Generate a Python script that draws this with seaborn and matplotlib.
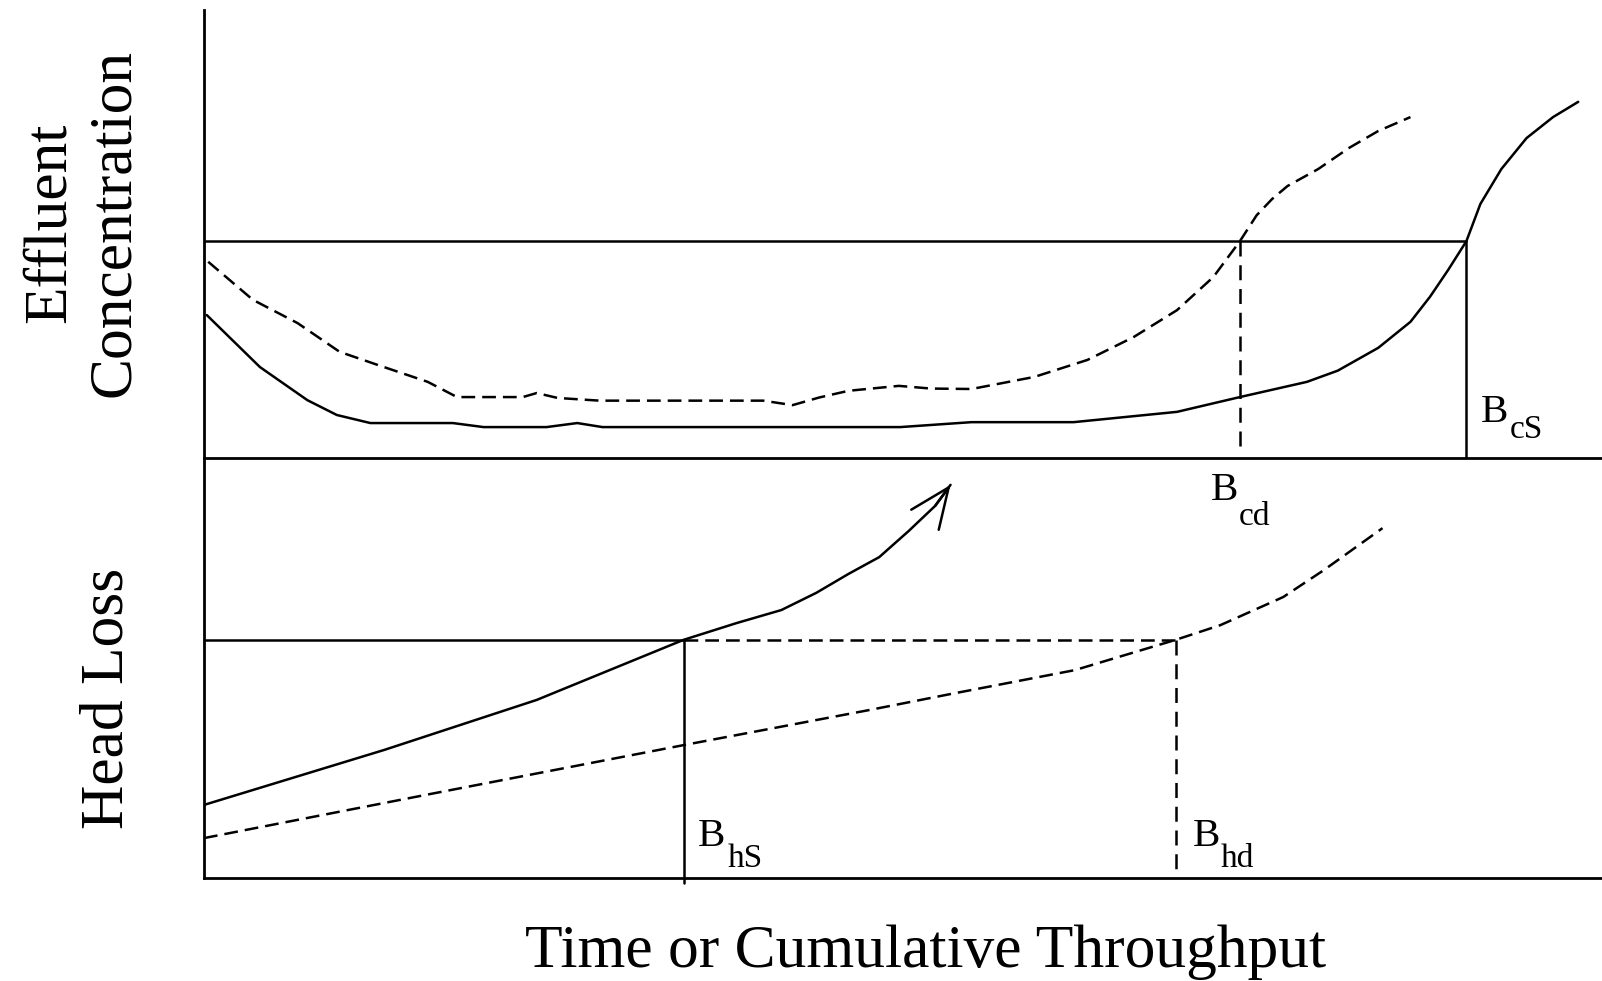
import matplotlib
matplotlib.use("Agg")
import matplotlib.pyplot as plt
import seaborn as sns

# ---- Effluent concentration (upper panel) ----
time_conc_single = [0.2, 4.0, 7.4, 9.5, 11.9, 17.8, 20.0, 24.5, 26.7, 28.5, 41.0, 49.8,
                    54.9, 62.2, 69.6, 74.1, 78.9, 81.1, 84.0, 86.3, 87.7, 89.0, 90.3,
                    91.3, 92.8, 94.6, 96.5, 98.3]
conc_single = [31.9, 20.3, 12.9, 9.6, 7.8, 7.8, 6.9, 6.9, 7.8, 6.9, 6.9, 6.9,
               8.0, 8.0, 10.3, 13.6, 17.0, 19.5, 24.6, 30.4, 36.0, 42.0, 48.4,
               56.7, 64.5, 71.4, 76.1, 79.5]

time_conc_dual = [0.3, 3.5, 6.7, 9.7, 12.4, 16.0, 18.1, 22.8, 23.8, 25.3, 28.3, 34.0,
                  40.0, 42.1, 44.0, 46.1, 49.7, 52.0, 54.9, 59.4, 63.2, 66.5, 69.6,
                  72.2, 74.1, 75.3, 76.4, 77.5, 79.7, 81.9, 84.0, 86.3]
conc_dual = [43.8, 35.3, 30.1, 23.7, 20.8, 17.0, 13.6, 13.6, 14.5, 13.4, 12.8, 12.8,
             12.8, 11.8, 13.5, 15.0, 16.1, 15.5, 15.4, 18.1, 21.9, 27.0, 33.0,
             40.4, 48.4, 54.2, 57.8, 60.7, 64.5, 69.2, 73.0, 76.1]

conc_limit = 48.4
b_cd = 74.1
b_cs = 90.3

# ---- Head loss (lower panel) ----
time_hl_single = [0.0, 12.9, 23.8, 34.3, 38.1, 41.3, 43.8, 46.1, 48.3, 50.4, 52.3, 53.4]
hl_single = [17.4, 30.5, 42.4, 56.7, 60.7, 63.8, 67.9, 72.4, 76.4, 82.6, 88.6, 93.6]

time_hl_dual = [0.0, 16.5, 34.4, 47.6, 53.4, 62.3, 69.5, 72.7, 77.2, 80.1, 84.3]
hl_dual = [9.5, 20.2, 31.7, 40.0, 43.8, 49.5, 56.7, 60.2, 66.9, 73.3, 83.3]

hl_limit = 56.7
b_hs = 34.3
b_hd = 69.5

sns.set_style("white")
plt.rcParams["font.family"] = ["Liberation Serif", "DejaVu Serif"]
plt.rcParams["text.color"] = "black"

W, H = 1602, 981
fig = plt.figure(figsize=(W / 100, H / 100), dpi=100)
x0 = 204 / W
ax_c = fig.add_axes([x0, (H - 458) / H, 1 - x0, (458 - 10) / H])
ax_h = fig.add_axes([x0, (H - 878) / H, 1 - x0, (878 - 458) / H])

LW = 1.8
DASH = (0, (5.5, 2.8))

for ax in (ax_c, ax_h):
    ax.set_xlim(0, 100)
    ax.set_ylim(0, 100)
    for side in ("top", "right"):
        ax.spines[side].set_visible(False)
    for side in ("left", "bottom"):
        ax.spines[side].set_color("black")
        ax.spines[side].set_linewidth(2.0)
    ax.set_facecolor("none")

# upper panel curves
sns.lineplot(x=time_conc_single, y=conc_single, ax=ax_c, color="black", lw=LW,
             sort=False, estimator=None)
sns.lineplot(x=time_conc_dual, y=conc_dual, ax=ax_c, color="black", lw=LW,
             linestyle=DASH, sort=False, estimator=None)
ax_c.plot([0, b_cs], [conc_limit, conc_limit], color="black", lw=LW)
ax_c.plot([b_cd, b_cd], [conc_limit, 1.5], color="black", lw=LW, linestyle=(0, (6, 3.5)))
ax_c.plot([b_cs, b_cs], [conc_limit, 0], color="black", lw=LW)

# lower panel curves
sns.lineplot(x=time_hl_single, y=hl_single, ax=ax_h, color="black", lw=LW,
             sort=False, estimator=None)
sns.lineplot(x=time_hl_dual, y=hl_dual, ax=ax_h, color="black", lw=LW,
             linestyle=DASH, sort=False, estimator=None)
ax_h.annotate("", xy=(time_hl_single[-1], hl_single[-1]),
              xytext=(time_hl_single[-2], hl_single[-2]),
              arrowprops=dict(arrowstyle="->,head_length=0.4,head_width=0.17",
                              lw=LW, color="black", mutation_scale=72,
                              shrinkA=0, shrinkB=0))
ax_h.plot([0, b_hs], [hl_limit, hl_limit], color="black", lw=LW)
ax_h.plot([b_hs, b_hd], [hl_limit, hl_limit], color="black", lw=LW, linestyle=DASH)
ax_h.plot([b_hs, b_hs], [hl_limit, -1.2], color="black", lw=LW, clip_on=False)
ax_h.plot([b_hd, b_hd], [hl_limit, 0], color="black", lw=LW, linestyle=(0, (6, 3.5)))

for ax in (ax_c, ax_h):
    ax.set_xticks([])
    ax.set_yticks([])
    ax.set_xlabel("")
    ax.set_ylabel("")


def b_label(ax, x, y, sub, dx, dy):
    ax.text(x, y, "B", fontsize=29.5, ha="left", va="baseline", color="black")
    ax.annotate(sub, xy=(x, y), xytext=(dx, dy), textcoords="offset pixels",
                fontsize=24, ha="left", va="baseline", color="black",
                annotation_clip=False)


b_label(ax_h, 72.0, 90.0, "cd", 28, -25)
b_label(ax_c, 91.3, 8.0, "cS", 29, -16)
b_label(ax_h, 35.3, 7.6, "hS", 30, -21)
b_label(ax_h, 70.7, 7.6, "hd", 28, -21)

fig.text(82 / W, 1 - 223 / H, "Effluent\nConcentration", rotation=90,
         ha="center", va="center", fontsize=44.3, linespacing=1.2, color="black")
fig.text(108 / W, 1 - 698 / H, "Head Loss", rotation=90,
         ha="center", va="center", fontsize=44.3, color="black")
fig.text(926 / W, (H - 967) / H, "Time or Cumulative Throughput",
         ha="center", va="baseline", fontsize=44.3, color="black")

fig.savefig("out.png", dpi=100, facecolor="white")
